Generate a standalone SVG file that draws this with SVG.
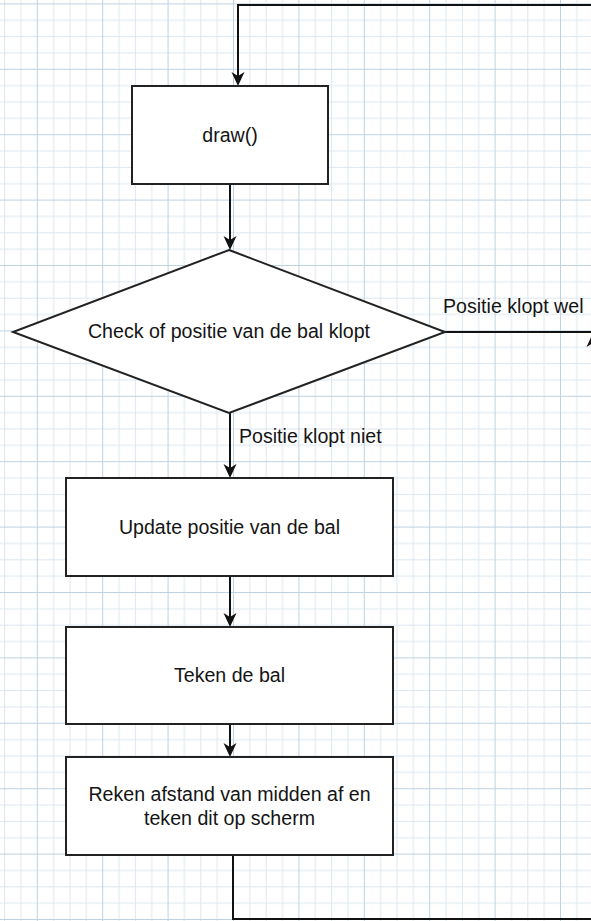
<svg xmlns="http://www.w3.org/2000/svg" width="591" height="921" viewBox="0 0 591 921">
  <defs>
    <!-- graph paper: one major cell with four minor divisions -->
    <pattern id="grid" x="36.8" y="68.8" width="65.4" height="65.4" patternUnits="userSpaceOnUse">
      <g stroke="#dce7f0" stroke-width="1">
        <line x1="16.85" y1="0" x2="16.85" y2="65.4"/>
        <line x1="33.2" y1="0" x2="33.2" y2="65.4"/>
        <line x1="49.55" y1="0" x2="49.55" y2="65.4"/>
        <line x1="0" y1="16.85" x2="65.4" y2="16.85"/>
        <line x1="0" y1="33.2" x2="65.4" y2="33.2"/>
        <line x1="0" y1="49.55" x2="65.4" y2="49.55"/>
      </g>
      <g stroke="#bed2e2" stroke-width="1">
        <line x1="0.5" y1="0" x2="0.5" y2="65.4"/>
        <line x1="0" y1="0.5" x2="65.4" y2="0.5"/>
      </g>
    </pattern>
    <marker id="arrow" viewBox="-14 -7 14 14" refX="-10" refY="0" markerWidth="14" markerHeight="14" markerUnits="userSpaceOnUse" orient="auto">
      <path d="M0,0 L-14,-6.5 L-10,0 L-14,6.5 Z" fill="#111"/>
    </marker>
  </defs>
  <style>
    .box { fill: #ffffff; stroke: #222; stroke-width: 2; }
    .edge { fill: none; stroke: #111; stroke-width: 2; }
    .label { font-family: "Liberation Sans", Arial, sans-serif; font-size: 19.6px; fill: #141414; }
    .mid { text-anchor: middle; }
  </style>

  <rect x="0" y="0" width="591" height="921" fill="#ffffff"/>
  <rect x="0" y="0" width="591" height="921" fill="url(#grid)"/>

  <g id="connectors">
    <!-- loop back into draw() -->
    <path class="edge" d="M 600 5 H 238 V 76" marker-end="url(#arrow)"/>
    <path class="edge" d="M 230 184 V 240" marker-end="url(#arrow)"/>
    <path class="edge" d="M 230 413 V 468" marker-end="url(#arrow)"/>
    <path class="edge" d="M 230 576 V 617" marker-end="url(#arrow)"/>
    <path class="edge" d="M 230 724 V 747" marker-end="url(#arrow)"/>
    <!-- yes branch leaving to the right -->
    <path class="edge" d="M 445 332 H 600"/>
    <path d="M 593 333 L 586.5 347 L 593 343 L 599.5 347 Z" fill="#111"/>
    <!-- return path at the bottom -->
    <path class="edge" d="M 233 855 V 919 H 600"/>
    <text class="label" x="443" y="313">Positie klopt wel</text>
    <text class="label" x="239" y="443">Positie klopt niet</text>
  </g>

  <g id="node-draw">
    <rect class="box" x="132" y="86" width="196" height="98"/>
    <text class="label mid" x="230" y="142">draw()</text>
  </g>

  <g id="node-check">
    <polygon class="box" points="229,250 445,332 229,413 13,332"/>
    <text class="label mid" x="229" y="338">Check of positie van de bal klopt</text>
  </g>

  <g id="node-update">
    <rect class="box" x="66" y="478" width="327" height="98"/>
    <text class="label mid" x="229.5" y="534">Update positie van de bal</text>
  </g>

  <g id="node-teken">
    <rect class="box" x="66" y="627" width="327" height="97"/>
    <text class="label mid" x="229.5" y="682">Teken de bal</text>
  </g>

  <g id="node-reken">
    <rect class="box" x="66" y="757" width="327" height="98"/>
    <text class="label mid" x="229.5" y="801">Reken afstand van midden af en</text>
    <text class="label mid" x="229.5" y="825">teken dit op scherm</text>
  </g>
</svg>
